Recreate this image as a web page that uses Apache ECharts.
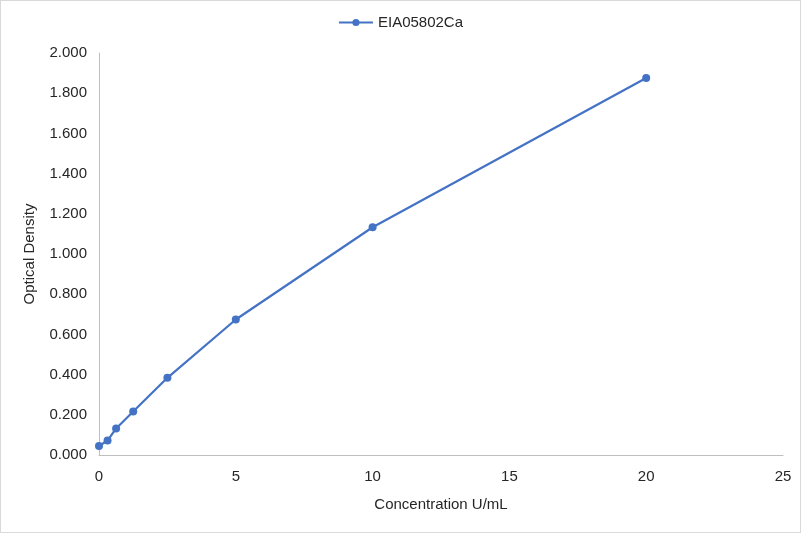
<!DOCTYPE html>
<html>
<head>
<meta charset="utf-8">
<script src="https://cdn.jsdelivr.net/npm/echarts@6/dist/echarts.min.js"></script>
<style>
  html, body { margin: 0; padding: 0; background: #fff; }
  #main { width: 799px; height: 531px; border: 1px solid #d9d9d9; }
</style>
</head>
<body>
<div id="main"></div>
<script>
// standard curve values
var seriesName = 'EIA05802Ca';
var concentration = [0, 0.3125, 0.625, 1.25, 2.5, 5, 10, 20];
var density = [0.045, 0.072, 0.132, 0.216, 0.384, 0.674, 1.133, 1.876];

var lineColor = '#4472C4';
var textColor = '#262626';
var font = '"Liberation Sans", Arial, sans-serif';

var points = [];
for (var i = 0; i < concentration.length; i++) {
    points.push([concentration[i], density[i]]);
}

var chart = echarts.init(document.getElementById('main'));
var option = {
    animation: false,
    textStyle: { fontFamily: font },
    legend: {
        top: 9,
        left: 'center',
        itemWidth: 34,
        itemHeight: 9,
        itemGap: 10,
        textStyle: { fontSize: 15, color: textColor, fontFamily: font },
        data: [seriesName]
    },
    grid: { left: 98, right: 17, top: 52, bottom: 77 },
    xAxis: {
        type: 'value',
        min: 0,
        max: 25,
        interval: 5,
        name: 'Concentration U/mL',
        nameLocation: 'middle',
        nameGap: 42,
        nameTextStyle: { fontSize: 15, color: textColor },
        axisLine: { lineStyle: { color: '#bfbfbf', width: 1 } },
        axisTick: { show: false },
        splitLine: { show: false },
        axisLabel: { fontSize: 15, color: textColor, margin: 14 }
    },
    yAxis: {
        type: 'value',
        min: 0,
        max: 2,
        interval: 0.2,
        name: 'Optical Density',
        nameLocation: 'middle',
        nameGap: 62,
        nameTextStyle: { fontSize: 15, color: textColor },
        axisLine: { show: true, lineStyle: { color: '#bfbfbf', width: 1 } },
        axisTick: { show: false },
        splitLine: { show: false },
        axisLabel: {
            fontSize: 15,
            color: textColor,
            margin: 12,
            formatter: function (v) { return v.toFixed(3); }
        }
    },
    series: [{
        name: seriesName,
        type: 'line',
        data: points,
        symbol: 'circle',
        symbolSize: 8,
        itemStyle: { color: lineColor },
        lineStyle: { color: lineColor, width: 2.2 }
    }]
};
chart.setOption(option);
</script>
</body>
</html>
